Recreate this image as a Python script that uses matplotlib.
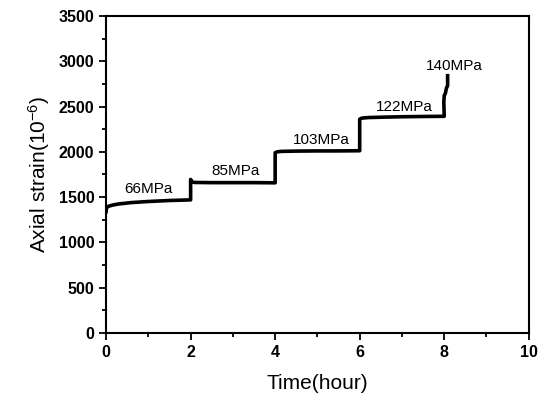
import matplotlib
matplotlib.use('Agg')
import matplotlib.pyplot as plt
from matplotlib.ticker import MultipleLocator

plt.rcParams['font.family'] = ['Liberation Sans', 'DejaVu Sans']
plt.rcParams['mathtext.default'] = 'regular'

# creep curve, one segment per load step (time in hours, strain in 1e-6)
t_66 = [0.0, 0.01, 0.05, 0.15, 0.3, 0.6, 1.0, 1.5, 2.0]
e_66 = [1340, 1380, 1398, 1412, 1425, 1440, 1452, 1463, 1470]
t_85 = [2.0, 2.0, 2.03, 2.1, 2.5, 3.0, 3.5, 4.0]
e_85 = [1470, 1695, 1668, 1662, 1660, 1660, 1660, 1658]
t_103 = [4.0, 4.0, 4.05, 4.15, 4.5, 5.0, 5.5, 6.0]
e_103 = [1658, 1990, 2000, 2005, 2008, 2010, 2010, 2012]
t_122 = [6.0, 6.0, 6.05, 6.2, 6.6, 7.0, 7.5, 8.0]
e_122 = [2012, 2360, 2372, 2378, 2383, 2387, 2390, 2392]
t_140 = [8.0, 7.99, 8.0, 8.03, 8.05, 8.08, 8.08]
e_140 = [2392, 2550, 2620, 2650, 2700, 2730, 2840]

stress_labels = ['66MPa', '85MPa', '103MPa', '122MPa', '140MPa']
label_t = [1.0, 3.07, 5.1, 7.05, 8.25]
label_e = [1590, 1790, 2130, 2495, 2950]

time = t_66 + t_85 + t_103 + t_122 + t_140
strain = e_66 + e_85 + e_103 + e_122 + e_140

fig = plt.figure(figsize=(5.44, 3.97), dpi=100)
ax = fig.add_axes([0.195, 0.161, 0.777, 0.799])
ax.plot(time, strain, color='black', linewidth=2.6, solid_joinstyle='round')

for s, x, y in zip(stress_labels, label_t, label_e):
    ax.text(x, y, s, ha='center', va='center', fontsize=11)

ax.set_xlim(0, 10)
ax.set_ylim(0, 3500)
ax.xaxis.set_major_locator(MultipleLocator(2))
ax.xaxis.set_minor_locator(MultipleLocator(1))
ax.yaxis.set_major_locator(MultipleLocator(500))
ax.yaxis.set_minor_locator(MultipleLocator(250))
ax.tick_params(which='both', direction='out', width=1.3)
ax.tick_params(which='major', length=5, labelsize=11.5)
ax.tick_params(which='minor', length=3)
for lab in ax.get_xticklabels() + ax.get_yticklabels():
    lab.set_fontweight('bold')
for sp in ax.spines.values():
    sp.set_linewidth(1.5)

ax.set_xlabel('Time(hour)', fontsize=15, labelpad=10)
ax.set_ylabel('Axial strain(10$^{-6}$)', fontsize=15, labelpad=5)

fig.savefig('out.png', dpi=100)
